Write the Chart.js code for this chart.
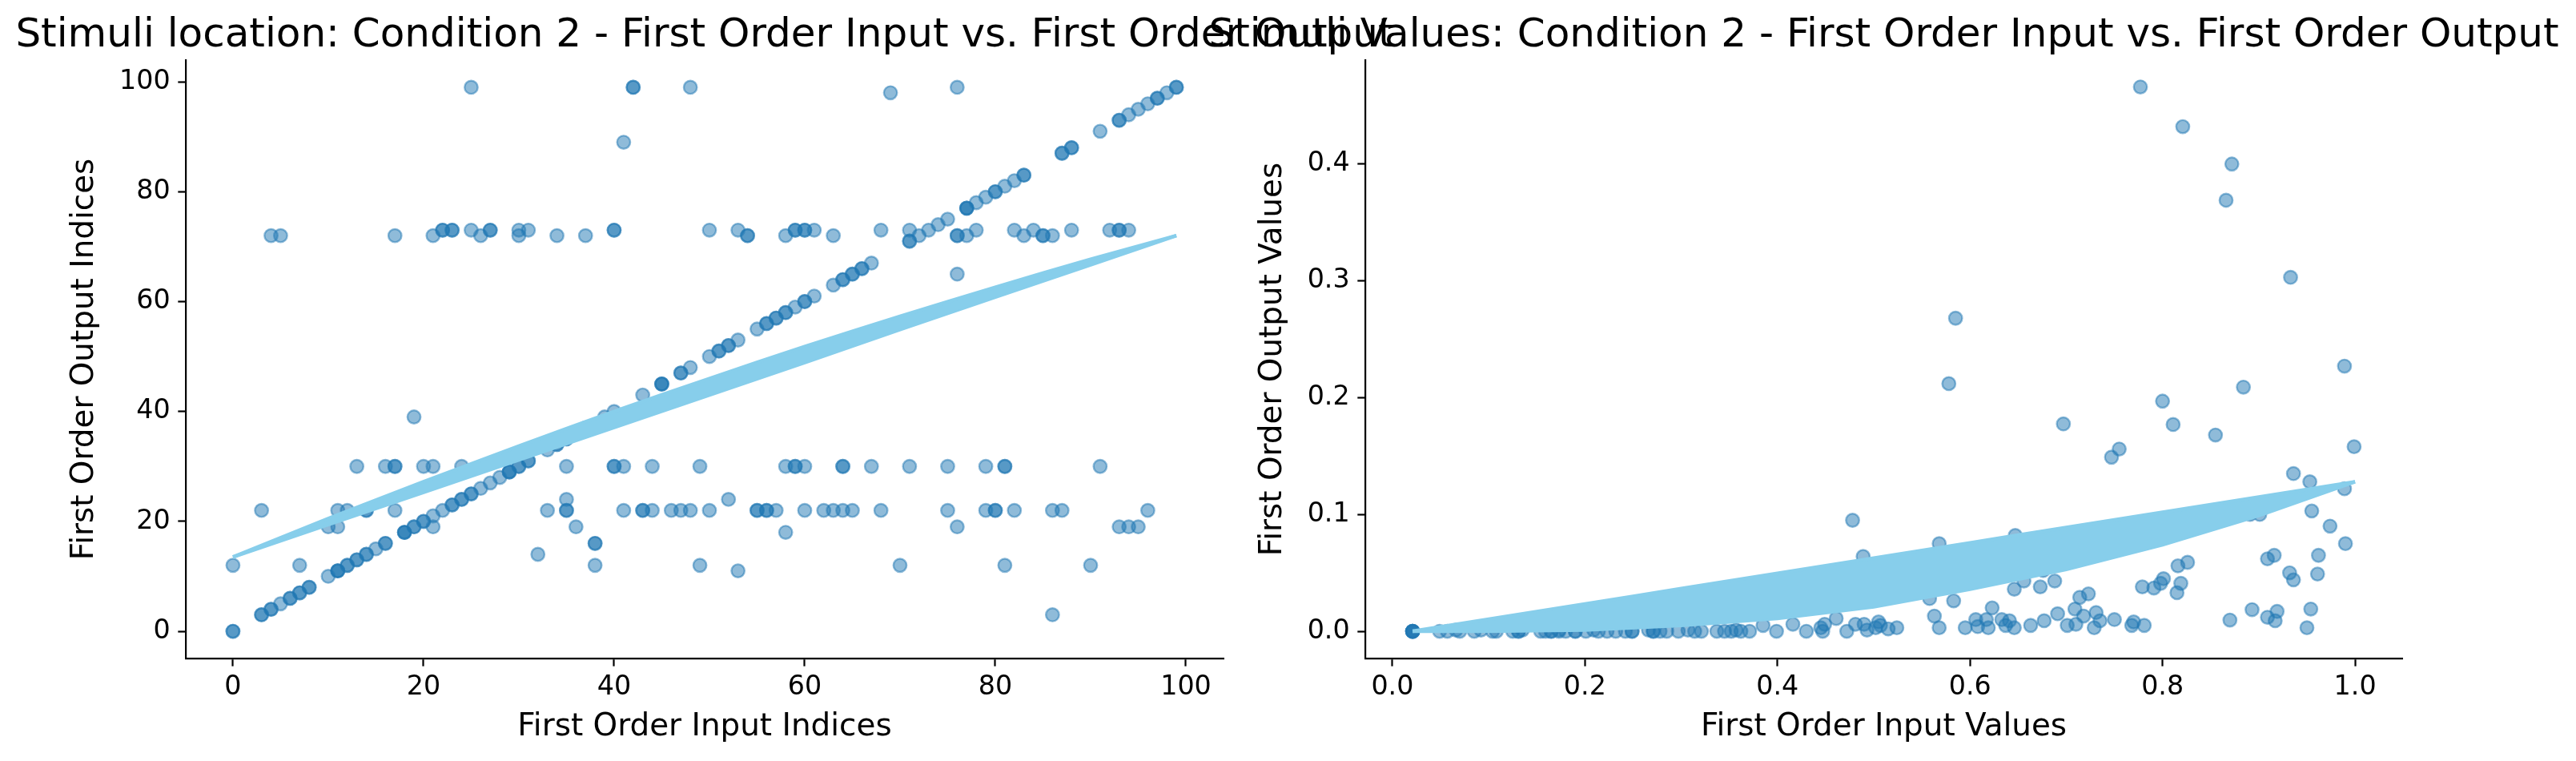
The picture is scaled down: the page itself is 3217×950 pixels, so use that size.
<!DOCTYPE html>
<html><head><meta charset="utf-8">
<script src="https://cdn.jsdelivr.net/npm/chart.js@4.4.1/dist/chart.umd.min.js"></script>
<style>
html,body{margin:0;padding:0;background:#fff;}
#wrap{position:relative;width:3217px;height:950px;background:#fff;}
canvas{position:absolute;left:0;top:0;}
</style></head><body>
<div id="wrap"><canvas id="c1" width="3217" height="950"></canvas><canvas id="c2" width="3217" height="950"></canvas></div>
<script>
// ---------- Left panel: Stimuli location (indices) ----------
const leftTitle = 'Stimuli location: Condition 2 - First Order Input vs. First Order Output';
const leftXLabel = 'First Order Input Indices';
const leftYLabel = 'First Order Output Indices';
const leftXTicks = [0, 20, 40, 60, 80, 100];
const leftXTickLabels = ['0', '20', '40', '60', '80', '100'];
const leftYTicks = [0, 20, 40, 60, 80, 100];
const leftYTickLabels = ['0', '20', '40', '60', '80', '100'];

const leftInput = [
  0,0,3,3,4,4,5,6,6,7,7,8,8,10,11,11,11,12,12,13,13,14,14,15,16,16,18,18,18,19,19,20,20,21,22,23,23,24,24,25,25,26,27,28,29,29,29,30,30,31,31,33,34,34,35,35,37,39,40,43,45,45,45,47,47,48,50,51,51,52,52,53,55,56,56,57,57,58,58,59,60,60,61,63,64,64,65,65,66,66,67,71,71,72,73,74,75,77,77,77,78,79,80,80,81,82,83,83,87,87,88,88,91,93,93,94,95,96,97,97,98,99,99,
  25,42,42,48,69,76,41,
  4,5,17,21,22,22,23,23,25,26,27,27,30,30,31,34,37,40,40,50,53,54,54,58,59,59,60,60,61,63,68,71,76,76,77,78,82,83,84,85,85,86,88,92,93,93,94,
  76,
  13,16,17,17,20,21,24,35,40,40,41,44,49,58,59,59,60,64,64,67,71,75,79,81,81,91,
  3,11,12,14,14,17,33,35,35,41,43,43,44,46,47,48,50,55,55,56,56,57,60,62,63,64,65,68,75,79,80,80,82,86,87,96,
  35,52,19,
  10,11,21,36,76,93,94,95,58,
  38,38,32,
  0,7,38,49,70,81,90,53,86
];
const leftOutput = [
  0,0,3,3,4,4,5,6,6,7,7,8,8,10,11,11,11,12,12,13,13,14,14,15,16,16,18,18,18,19,19,20,20,21,22,23,23,24,24,25,25,26,27,28,29,29,29,30,30,31,31,33,34,34,35,35,37,39,40,43,45,45,45,47,47,48,50,51,51,52,52,53,55,56,56,57,57,58,58,59,60,60,61,63,64,64,65,65,66,66,67,71,71,72,73,74,75,77,77,77,78,79,80,80,81,82,83,83,87,87,88,88,91,93,93,94,95,96,97,97,98,99,99,
  99,99,99,99,98,99,89,
  72,72,72,72,73,73,73,73,73,72,73,73,73,72,73,72,72,73,73,73,73,72,72,72,73,73,73,73,73,72,73,73,72,72,72,73,73,72,73,72,72,72,73,73,73,73,73,
  65,
  30,30,30,30,30,30,30,30,30,30,30,30,30,30,30,30,30,30,30,30,30,30,30,30,30,30,
  22,22,22,22,22,22,22,22,22,22,22,22,22,22,22,22,22,22,22,22,22,22,22,22,22,22,22,22,22,22,22,22,22,22,22,22,
  24,24,39,
  19,19,19,19,19,19,19,19,18,
  16,16,14,
  12,12,12,12,12,12,12,11,3
];
// regression band: upper edge (fitted curve) and lower edge
const leftFitX     = [0, 10, 20, 30, 40, 50, 60, 70, 80, 90, 99];
const leftFitUpper = [13.5, 20.5, 27.2, 33.7, 40.0, 46.0, 51.8, 57.3, 62.6, 67.7, 72.0];
const leftFitLower = [13.5, 19.4, 25.3, 31.2, 37.1, 43.0, 48.9, 54.9, 60.8, 66.7, 72.0];

// ---------- Right panel: Stimuli values ----------
const rightTitle = 'Stimuli Values: Condition 2 - First Order Input vs. First Order Output';
const rightXLabel = 'First Order Input Values';
const rightYLabel = 'First Order Output Values';
const rightXTicks = [0.0, 0.2, 0.4, 0.6, 0.8, 1.0];
const rightXTickLabels = ['0.0', '0.2', '0.4', '0.6', '0.8', '1.0'];
const rightYTicks = [0.0, 0.1, 0.2, 0.3, 0.4];
const rightYTickLabels = ['0.0', '0.1', '0.2', '0.3', '0.4'];

const rightInput = [
  0.021,0.021,0.021,0.021,0.021,0.049,0.057,0.066,0.070,0.085,0.092,0.104,0.108,0.125,0.131,0.131,0.135,0.154,0.159,0.165,0.165,0.173,0.173,0.180,0.190,0.190,0.201,0.209,0.214,0.223,0.232,0.242,0.249,0.249,0.266,0.271,0.271,0.278,0.285,0.297,0.307,0.314,0.321,0.337,0.345,0.352,0.357,0.362,0.371,
  0.385,0.399,0.416,0.430,0.445,0.447,0.449,0.461,0.472,0.481,0.490,0.493,0.502,0.505,0.478,0.489,
  0.507,0.515,0.524,0.568,0.563,0.558,0.583,0.568,0.595,0.606,0.608,0.617,0.619,0.623,0.633,0.637,0.641,0.646,0.646,0.656,0.647,0.676,0.673,0.688,0.663,0.677,0.691,0.701,0.710,0.709,0.714,0.723,0.718,0.731,0.729,0.735,0.750,0.768,0.770,0.781,
  0.697,0.747,0.755,0.779,0.791,0.798,0.801,0.816,0.826,0.819,0.815,0.800,0.811,0.777,0.821,0.872,0.866,0.855,0.884,0.933,0.989,0.999,0.936,0.953,0.989,0.955,0.974,0.990,0.962,0.961,0.932,0.936,0.909,0.916,0.891,0.901,0.870,0.893,0.909,0.919,0.917,0.954,0.950,0.585,0.578
];
const rightOutput = [
  0,0,0,0,0,0,0,0.001,0,0,0.001,0,0,0,0,0,0.001,0,0,0,0,0,0.001,0,0,0,0,0.001,0,0,0,0,0,0,0.001,0,0,0,0,0,0.001,0,0,0,0,0,0.001,0,0,
  0.005,0,0.006,0,0.003,0,0.006,0.011,0,0.006,0.006,0.001,0.003,0.008,0.095,0.064,
  0.005,0.002,0.003,0.003,0.013,0.028,0.026,0.075,0.003,0.010,0.004,0.010,0.003,0.020,0.010,0.005,0.009,0.003,0.036,0.043,0.082,0.052,0.038,0.043,0.005,0.009,0.015,0.005,0.006,0.019,0.029,0.032,0.013,0.016,0.003,0.009,0.010,0.005,0.008,0.005,
  0.1775,0.149,0.156,0.038,0.037,0.041,0.045,0.056,0.059,0.041,0.033,0.197,0.177,0.466,0.432,0.400,0.369,0.168,0.209,0.303,0.227,0.158,0.135,0.128,0.122,0.103,0.090,0.075,0.065,0.049,0.050,0.044,0.062,0.065,0.100,0.100,0.0096,0.0185,0.012,0.017,0.009,0.019,0.003,0.268,0.212
];
const rightFitX     = [0.021, 0.1, 0.2, 0.3, 0.4, 0.5, 0.6, 0.7, 0.8, 0.9, 1.0];
const rightFitUpper = [0.0, 0.0103, 0.0234, 0.0365, 0.0496, 0.0626, 0.0757, 0.0888, 0.1019, 0.1149, 0.128];
const rightFitLower = [0.0, 0.0, 0.001, 0.005, 0.011, 0.021, 0.036, 0.053, 0.074, 0.099, 0.128];

// ---------- drawing ----------
const FONT = "'DejaVu Sans'";
const SCATTER_COLOR = 'rgba(31,119,180,0.5)';
const BAND_COLOR = '#87CEEB';

const axTitlePlugin = {
  id: 'axTitle',
  afterDraw(chart, args, opts) {
    const {ctx, chartArea} = chart;
    ctx.save();
    ctx.font = opts.size + 'px ' + FONT;
    ctx.fillStyle = '#000';
    ctx.textAlign = 'center';
    ctx.textBaseline = 'alphabetic';
    ctx.fillText(opts.text, (chartArea.left + chartArea.right) / 2, chartArea.top - opts.pad);
    ctx.restore();
  }
};

function pts(xs, ys) { return xs.map((x, i) => ({x: x, y: ys[i]})); }

function axis(cfg) {
  const horiz = cfg.horiz;
  return {
    type: 'linear',
    position: horiz ? 'bottom' : 'left',
    min: cfg.min, max: cfg.max,
    afterFit: s => { if (horiz) s.height = cfg.size; else s.width = cfg.size; },
    afterBuildTicks: s => { s.ticks = cfg.ticks.map(v => ({value: v})); },
    ticks: {
      callback: (v, i) => cfg.labels[i],
      font: {family: FONT, size: 33.3},
      color: '#000',
      padding: horiz ? 7 : 9.7,
      autoSkip: false, maxRotation: 0, minRotation: 0
    },
    grid: {display: true, drawOnChartArea: false, drawTicks: true, tickLength: 9.7, tickWidth: 2.2, tickColor: '#000', color: '#000'},
    border: {display: true, color: '#000', width: 2.2},
    title: {
      display: true, text: cfg.title, color: '#000',
      font: {family: FONT, size: 38.9, lineHeight: 1.2},
      padding: horiz ? {top: 0, bottom: cfg.tpad} : {top: cfg.tpad, bottom: 0}
    }
  };
}

function makeChart(id, d) {
  return new Chart(document.getElementById(id), {
    type: 'scatter',
    data: {
      datasets: [
        {data: pts(d.fitX, d.fitA), showLine: true, pointRadius: 0, borderColor: BAND_COLOR, backgroundColor: BAND_COLOR, borderWidth: 4.5, fill: '+1', order: 0, tension: 0.3},
        {data: pts(d.fitX, d.fitB), showLine: true, pointRadius: 0, borderColor: BAND_COLOR, backgroundColor: BAND_COLOR, borderWidth: 4.5, fill: false, order: 0},
        {data: pts(d.xs, d.ys), pointRadius: 8.2, pointBorderWidth: 2.4, backgroundColor: SCATTER_COLOR, borderColor: SCATTER_COLOR, order: 1}
      ]
    },
    options: {
      responsive: false, animation: false, devicePixelRatio: 1, events: [],
      layout: {padding: d.padding},
      plugins: {legend: {display: false}, tooltip: {enabled: false}, title: {display: false},
        axTitle: {text: d.title, size: 50, pad: 17}},
      scales: {
        x: axis({horiz: true, min: d.xmin, max: d.xmax, size: 128, ticks: d.xTicks, labels: d.xLabels, title: d.xTitle, tpad: 19}),
        y: axis({horiz: false, min: d.ymin, max: d.ymax, size: d.ySize, ticks: d.yTicks, labels: d.yLabels, title: d.yTitle, tpad: d.yTpad})
      }
    },
    plugins: [axTitlePlugin]
  });
}

makeChart('c1', {
  fitX: leftFitX, fitA: leftFitUpper, fitB: leftFitLower, xs: leftInput, ys: leftOutput,
  padding: {left: 0, right: 3217 - 1528, top: 75, bottom: 0},
  title: leftTitle, xTitle: leftXLabel, yTitle: leftYLabel,
  xmin: -4.95, xmax: 103.95, ymin: -4.95, ymax: 103.95,
  xTicks: leftXTicks, xLabels: leftXTickLabels, yTicks: leftYTicks, yLabels: leftYTickLabels,
  ySize: 232, yTpad: 83
});
makeChart('c2', {
  fitX: rightFitX, fitA: rightFitUpper, fitB: rightFitLower, xs: rightInput, ys: rightOutput,
  padding: {left: 1505, right: 3217 - 3000, top: 75, bottom: 0},
  title: rightTitle, xTitle: rightXLabel, yTitle: rightYLabel,
  xmin: -0.0282, xmax: 1.049, ymin: -0.0233, ymax: 0.489,
  xTicks: rightXTicks, xLabels: rightXTickLabels, yTicks: rightYTicks, yLabels: rightYTickLabels,
  ySize: 200, yTpad: 62
});
</script></body></html>
